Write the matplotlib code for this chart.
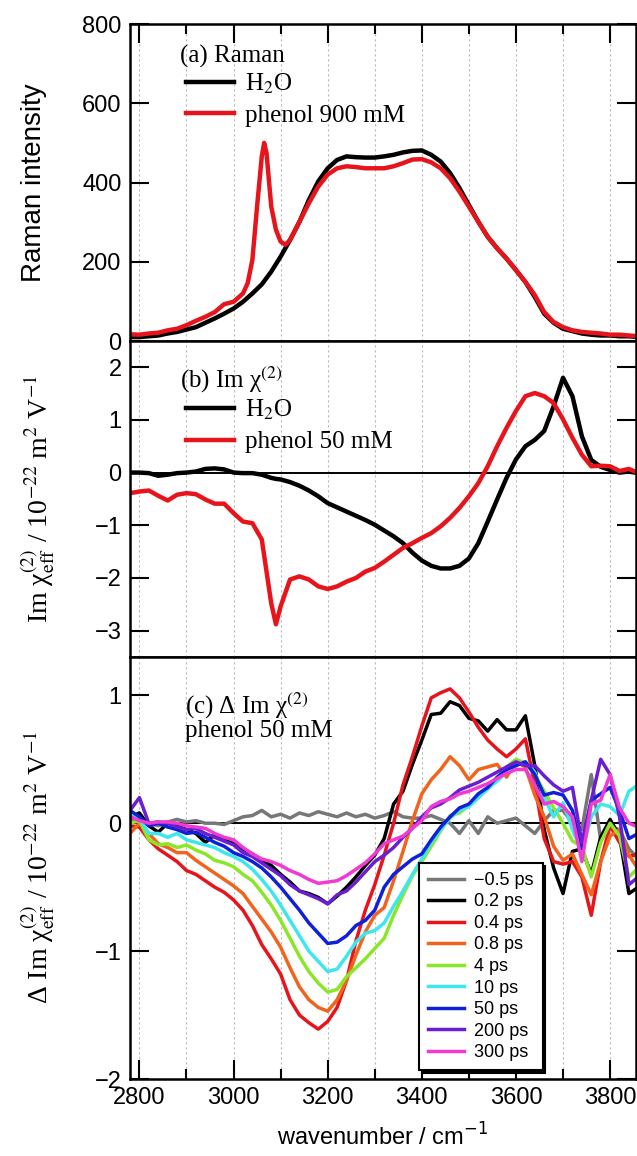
import numpy as np
import matplotlib
matplotlib.use("Agg")
import matplotlib.pyplot as plt
from matplotlib.ticker import MultipleLocator

plt.rcParams["font.family"] = ["Liberation Sans", "DejaVu Sans"]
plt.rcParams["mathtext.fontset"] = "stix"

# ============================================================
# (a) Raman spectra
# ============================================================
wn_a_h2o = [2780, 2800, 2820, 2840, 2860, 2880, 2900, 2920, 2940, 2960, 2980, 3000,
            3020, 3040, 3060, 3080, 3100, 3120, 3140, 3160, 3180, 3200, 3220, 3240,
            3260, 3280, 3300, 3320, 3340, 3360, 3380, 3400, 3420, 3440, 3460, 3480,
            3500, 3520, 3540, 3560, 3580, 3600, 3620, 3640, 3660, 3680, 3700, 3720,
            3740, 3760, 3780, 3800, 3820, 3840, 3860]
raman_h2o = [10, 10, 12, 14, 19, 23, 29, 35, 46, 57, 69, 82,
             99, 120, 143, 175, 213, 255, 301, 356, 403, 436, 457, 466,
             464, 463, 463, 466, 470, 476, 480, 481, 470, 453, 424, 386,
             343, 301, 263, 234, 208, 179, 149, 111, 69, 46, 31, 25,
             19, 16, 14, 14, 12, 12, 10]

wn_a_phe = [2780, 2800, 2820, 2840, 2860, 2880, 2900, 2920, 2940, 2960, 2980, 3000,
            3020, 3030, 3040, 3050, 3060, 3065, 3070, 3080, 3090, 3100, 3110, 3120,
            3140, 3160, 3180, 3200, 3220, 3240, 3260, 3280, 3300, 3320, 3340, 3360,
            3380, 3400, 3420, 3440, 3460, 3480, 3500, 3520, 3540, 3560, 3580, 3600,
            3620, 3640, 3660, 3680, 3700, 3720, 3740, 3760, 3780, 3800, 3820, 3840, 3860]
raman_phe = [17, 16, 19, 21, 27, 31, 40, 51, 61, 73, 93, 99,
             120, 146, 205, 340, 466, 500, 475, 340, 281, 251, 243, 255,
             301, 348, 390, 420, 436, 441, 439, 436, 436, 436, 441, 449,
             458, 459, 451, 436, 411, 377, 339, 301, 263, 234, 208, 179,
             149, 116, 73, 48, 35, 27, 23, 21, 19, 16, 16, 14, 12]

# ============================================================
# (b) Im chi(2)
# ============================================================
wn_b = [2780, 2800, 2820, 2840, 2860, 2880, 2900, 2920, 2940, 2960, 2980, 3000,
        3020, 3040, 3060, 3080, 3090, 3100, 3120, 3140, 3160, 3180, 3200, 3220,
        3240, 3260, 3280, 3300, 3320, 3340, 3360, 3380, 3400, 3420, 3440, 3460,
        3480, 3500, 3520, 3540, 3560, 3580, 3600, 3620, 3640, 3660, 3680, 3700,
        3720, 3740, 3760, 3780, 3800, 3820, 3840, 3860]
imchi_h2o = [0.0, 0.0, -0.01, -0.06, -0.04, -0.01, 0.0, 0.02, 0.07, 0.08, 0.06, 0.0,
             -0.01, -0.01, -0.04, -0.1, -0.12, -0.13, -0.18, -0.25, -0.34, -0.45, -0.58, -0.66,
             -0.74, -0.82, -0.9, -0.99, -1.1, -1.21, -1.34, -1.52, -1.67, -1.77, -1.82, -1.82,
             -1.77, -1.63, -1.34, -0.93, -0.51, -0.1, 0.25, 0.5, 0.62, 0.79, 1.26, 1.8,
             1.45, 0.69, 0.24, 0.11, 0.05, 0.0, 0.02, -0.01]
imchi_phe = [-0.39, -0.36, -0.34, -0.44, -0.53, -0.42, -0.39, -0.41, -0.51, -0.59, -0.59, -0.77,
             -0.93, -0.96, -1.27, -2.48, -2.88, -2.54, -2.03, -1.97, -2.03, -2.16, -2.21, -2.16,
             -2.07, -2.0, -1.88, -1.81, -1.69, -1.56, -1.43, -1.34, -1.24, -1.15, -1.02, -0.86,
             -0.67, -0.45, -0.2, 0.12, 0.5, 0.85, 1.17, 1.45, 1.51, 1.45, 1.32, 1.01,
             0.66, 0.34, 0.12, 0.13, 0.12, 0.03, 0.07, -0.01]

# ============================================================
# (c) Delta Im chi(2), phenol 50 mM
# ============================================================
wn_c = np.arange(2780, 3861, 20)
delays = ["\u22120.5 ps", "0.2 ps", "0.4 ps", "0.8 ps", "4 ps", "10 ps", "50 ps", "200 ps", "300 ps"]
colors_c = ["#777777", "#000000", "#e8141c", "#f0641e", "#8ce628", "#3ee6ee", "#1020d8", "#6a1ed2", "#f03ad2"]

d_m05 = [0.02, 0.03, 0.0, -0.02, 0.01, 0.03, 0.01, 0.02, 0.0, 0.0, -0.01, 0.02, 0.05, 0.06,
         0.1, 0.05, 0.07, 0.04, 0.08, 0.06, 0.09, 0.07, 0.05, 0.08, 0.05, 0.07, 0.04, 0.06,
         0.09, 0.05, 0.04, 0.04, 0.06, 0.03, 0.0, -0.08, 0.02, -0.08, 0.05, 0.0, 0.02, 0.04,
         -0.02, -0.08, 0.02, 0.1, 0.1, 0.0, -0.05, 0.38, -0.13, -0.03, -0.05, -0.2, -0.28]
d_02 = [0.05, 0.08, -0.02, -0.07, 0.0, -0.02, -0.05, -0.08, -0.15, -0.09, -0.13, -0.16, -0.2, -0.24,
        -0.29, -0.33, -0.4, -0.46, -0.53, -0.55, -0.58, -0.63, -0.57, -0.5, -0.42, -0.33, -0.25, -0.12,
        0.15, 0.25, 0.46, 0.65, 0.85, 0.86, 0.95, 0.92, 0.82, 0.8, 0.72, 0.81, 0.73, 0.73,
        0.84, 0.45, -0.05, -0.35, -0.55, -0.22, -0.2, -0.4, -0.11, 0.03, -0.1, -0.55, -0.5]
d_04 = [-0.02, -0.03, -0.13, -0.2, -0.25, -0.3, -0.37, -0.4, -0.45, -0.5, -0.54, -0.6, -0.68, -0.8,
        -0.95, -1.06, -1.18, -1.38, -1.5, -1.56, -1.61, -1.55, -1.44, -1.23, -0.92, -0.68, -0.48, -0.25,
        0.0, 0.3, 0.52, 0.76, 0.98, 1.02, 1.05, 0.98, 0.87, 0.75, 0.65, 0.58, 0.52, 0.58,
        0.66, 0.3, -0.12, -0.3, -0.32, -0.3, -0.42, -0.72, -0.3, -0.02, -0.15, -0.26, -0.24]
d_08 = [-0.08, 0.0, -0.08, -0.16, -0.19, -0.23, -0.23, -0.29, -0.34, -0.39, -0.44, -0.49, -0.55, -0.65,
        -0.75, -0.85, -0.97, -1.13, -1.28, -1.38, -1.44, -1.47, -1.38, -1.23, -1.03, -0.85, -0.72, -0.66,
        -0.45, -0.22, 0.02, 0.23, 0.34, 0.42, 0.52, 0.45, 0.34, 0.42, 0.44, 0.46, 0.36, 0.48,
        0.44, 0.22, 0.05, -0.18, -0.29, -0.24, -0.4, -0.56, -0.3, -0.1, -0.05, -0.25, -0.36]
d_4 = [0.0, 0.02, -0.13, -0.17, -0.16, -0.19, -0.17, -0.21, -0.24, -0.29, -0.31, -0.34, -0.4, -0.45,
       -0.54, -0.64, -0.76, -0.9, -1.04, -1.16, -1.25, -1.32, -1.3, -1.2, -1.13, -1.06, -0.98, -0.9,
       -0.72, -0.56, -0.41, -0.3, -0.18, -0.06, 0.06, 0.08, 0.14, 0.2, 0.27, 0.35, 0.44, 0.5,
       0.47, 0.38, 0.25, 0.12, 0.0, -0.14, -0.18, -0.42, -0.15, 0.0, -0.1, -0.42, -0.35]
d_10 = [0.08, 0.04, -0.08, -0.08, -0.11, -0.08, -0.13, -0.15, -0.17, -0.19, -0.23, -0.26, -0.3, -0.36,
        -0.44, -0.53, -0.64, -0.76, -0.88, -1.0, -1.08, -1.16, -1.14, -1.04, -0.93, -0.86, -0.84, -0.78,
        -0.65, -0.53, -0.4, -0.28, -0.15, -0.05, 0.04, 0.1, 0.13, 0.2, 0.27, 0.33, 0.4, 0.46,
        0.48, 0.4, 0.2, 0.05, 0.16, -0.05, -0.22, 0.05, 0.15, 0.13, 0.06, 0.25, 0.3]
d_50 = [0.1, 0.05, -0.02, 0.0, -0.03, -0.05, -0.08, -0.07, -0.11, -0.15, -0.18, -0.23, -0.26, -0.3,
        -0.35, -0.42, -0.5, -0.59, -0.68, -0.78, -0.86, -0.94, -0.93, -0.88, -0.8, -0.76, -0.68, -0.5,
        -0.4, -0.34, -0.28, -0.24, -0.13, -0.03, 0.05, 0.12, 0.15, 0.23, 0.28, 0.36, 0.42, 0.45,
        0.48, 0.38, 0.22, 0.24, 0.22, 0.1, -0.2, 0.18, 0.23, 0.28, 0.1, -0.12, -0.08]
d_200 = [0.1, 0.2, 0.0, 0.01, 0.0, -0.03, -0.05, -0.04, -0.08, -0.11, -0.14, -0.17, -0.23, -0.26,
         -0.31, -0.36, -0.41, -0.48, -0.53, -0.56, -0.59, -0.63, -0.56, -0.53, -0.46, -0.38, -0.3, -0.25,
         -0.19, -0.11, -0.04, 0.05, 0.12, 0.15, 0.2, 0.26, 0.29, 0.32, 0.36, 0.4, 0.44, 0.48,
         0.45, 0.45, 0.37, 0.3, 0.25, 0.28, -0.15, 0.18, 0.5, 0.38, 0.05, -0.48, -0.42]
d_300 = [0.05, 0.02, 0.0, 0.01, 0.01, 0.0, -0.02, -0.03, -0.04, -0.08, -0.11, -0.13, -0.19, -0.24,
         -0.28, -0.3, -0.33, -0.37, -0.4, -0.44, -0.47, -0.46, -0.45, -0.41, -0.36, -0.31, -0.24, -0.16,
         -0.13, -0.1, -0.04, 0.02, 0.13, 0.17, 0.19, 0.23, 0.25, 0.28, 0.31, 0.35, 0.39, 0.42,
         0.42, 0.3, 0.15, 0.17, 0.13, 0.05, -0.3, 0.15, 0.18, 0.38, 0.12, 0.0, -0.03]
series_c = [d_m05, d_02, d_04, d_08, d_4, d_10, d_50, d_200, d_300]

# ============================================================
# Figure
# ============================================================
fig = plt.figure(figsize=(6.37, 11.56), dpi=100)
L, W = 0.2041, 0.7943
ax_a = fig.add_axes([L, 0.7050, W, 0.2742])
ax_b = fig.add_axes([L, 0.4317, W, 0.2734])
ax_c = fig.add_axes([L, 0.0666, W, 0.3651])

serif = "Liberation Serif"
red = "#e8141c"
tfs = 17

for ax in (ax_a, ax_b, ax_c):
    ax.set_xlim(2780, 3855)
    ax.xaxis.set_major_locator(MultipleLocator(200))
    ax.xaxis.set_minor_locator(MultipleLocator(100))
    ax.grid(True, which="both", axis="x", color="#b8b8b8", ls=(0, (2, 2.5)), lw=0.8)
    ax.set_axisbelow(True)
    for s in ax.spines.values():
        s.set_linewidth(1.8)
    ax.tick_params(which="both", direction="in", width=1.5, labelsize=tfs,
                   left=True, right=True, top=False, bottom=False, labelbottom=False)
    ax.tick_params(which="major", length=14)
    ax.tick_params(which="minor", length=7)
    ax.tick_params(axis="y", which="minor", left=False, right=False)
    ax.tick_params(axis="y", pad=6)

ax_a.tick_params(axis="x", which="both", top=True)
ax_c.tick_params(axis="x", which="both", bottom=True, labelbottom=True, pad=6)

# ---- (a)
ax_a.plot(wn_a_h2o, raman_h2o, color="k", lw=3.2, label="H$_2$O")
ax_a.plot(wn_a_phe, raman_phe, color=red, lw=3.2, label="phenol 900 mM")
ax_a.set_ylim(0, 800)
ax_a.yaxis.set_major_locator(MultipleLocator(200))
ax_a.set_ylabel("Raman intensity", fontsize=20)
ax_a.text(0.099, 0.877, "(a) Raman", transform=ax_a.transAxes, fontsize=18, family=serif, va="baseline")
ax_a.legend(loc="upper left", bbox_to_anchor=(0.111, 0.85), frameon=False, borderpad=0, borderaxespad=0,
            handlelength=1.9, handletextpad=0.45, labelspacing=0.35, prop={"family": serif, "size": 18})

# ---- (b)
ax_b.axhline(0, color="k", lw=1.4)
ax_b.plot(wn_b, imchi_h2o, color="k", lw=3.2, label="H$_2$O")
ax_b.plot(wn_b, imchi_phe, color=red, lw=3.2, label="phenol 50 mM")
ax_b.set_ylim(-3.5, 2.5)
ax_b.yaxis.set_major_locator(MultipleLocator(1))
ax_b.set_ylabel("Im \u03c7$^{(2)}_{\\rm eff}$ / 10$^{-22}$ m$^{2}$ V$^{-1}$", fontsize=20, family=serif)
ax_b.text(0.099, 0.851, "(b) Im \u03c7$^{(2)}$", transform=ax_b.transAxes, fontsize=18, family=serif, va="baseline")
ax_b.legend(loc="upper left", bbox_to_anchor=(0.111, 0.82), frameon=False, borderpad=0, borderaxespad=0,
            handlelength=1.9, handletextpad=0.45, labelspacing=0.35, prop={"family": serif, "size": 18})

# ---- (c)
ax_c.axhline(0, color="k", lw=1.4)
for lab, col, vals in zip(delays, colors_c, series_c):
    ax_c.plot(wn_c, vals, color=col, lw=2.5, label=lab)
ax_c.set_ylim(-2, 1.3)
ax_c.yaxis.set_major_locator(MultipleLocator(1))
ax_c.set_ylabel("\u0394 Im \u03c7$^{(2)}_{\\rm eff}$ / 10$^{-22}$ m$^{2}$ V$^{-1}$", fontsize=20, family=serif)
ax_c.text(0.108, 0.867, "(c) \u0394 Im \u03c7$^{(2)}$", transform=ax_c.transAxes, fontsize=18, family=serif, va="baseline")
ax_c.text(0.108, 0.810, "phenol 50 mM", transform=ax_c.transAxes, fontsize=18, family=serif, va="baseline")
leg = ax_c.legend(loc="upper left", bbox_to_anchor=(0.571, 0.512), borderaxespad=0, fancybox=False,
                  fontsize=13, handlelength=2.0, handletextpad=0.55, labelspacing=0.25, borderpad=0.5,
                  edgecolor="k", framealpha=1,
                  shadow={"color": "k", "alpha": 1.0, "ox": 2, "oy": -2})
leg.get_frame().set_linewidth(1.5)
ax_c.set_xlabel("wavenumber / cm$^{-1}$", fontsize=17, math_fontfamily="dejavusans", labelpad=10)

ax_a.yaxis.set_label_coords(-0.165, 0.5)
ax_b.yaxis.set_label_coords(-0.145, 0.5)
ax_c.yaxis.set_label_coords(-0.145, 0.5)

fig.savefig("out.png", dpi=100)
